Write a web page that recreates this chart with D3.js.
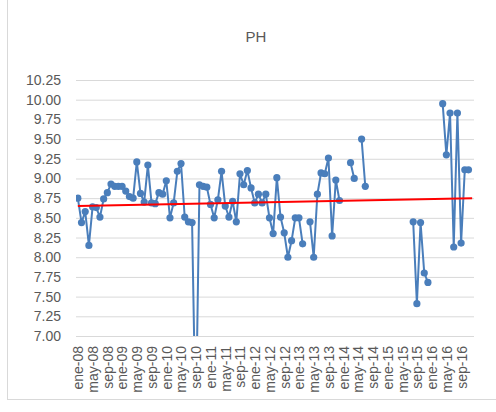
<!DOCTYPE html>
<html>
<head>
<meta charset="utf-8">
<script src="https://cdn.jsdelivr.net/npm/d3@7"></script>
<style>
  body { margin: 0; background: #fff; }
  text { font-family: "Liberation Sans", Arial, sans-serif; }
</style>
</head>
<body>
<script>
// categories: one per month, ene-08 .. dic-16
const years = [8, 9, 10, 11, 12, 13, 14, 15, 16];
const monthNames = ["ene", "feb", "mar", "abr", "may", "jun", "jul", "ago", "sep", "oct", "nov", "dic"];
const months = [];
years.forEach(y => monthNames.forEach(m => months.push(m + "-" + String(y).padStart(2, "0"))));

// pH readings, null = no sample that month
const phValues = [
  8.75, 8.44, 8.58, 8.15, 8.64, 8.63, 8.51, 8.74, 8.82, 8.93, 8.90, 8.90,   // 2008
  8.90, 8.84, 8.77, 8.75, 9.21, 8.81, 8.70, 9.17, 8.69, 8.68, 8.82, 8.80,   // 2009
  8.97, 8.50, 8.69, 9.09, 9.19, 8.51, 8.45, 8.44, 5.80, 8.92, 8.90, 8.89,   // 2010
  8.67, 8.50, 8.73, 9.09, 8.65, 8.51, 8.71, 8.45, 9.06, 8.92, 9.10, 8.88,   // 2011
  8.69, 8.80, 8.69, 8.80, 8.50, 8.30, 9.01, 8.51, 8.31, 8.00, 8.21, 8.50,   // 2012
  8.50, 8.17, null, 8.45, 8.00, 8.80, 9.07, 9.06, 9.26, 8.27, 8.98, 8.72,   // 2013
  null, null, 9.20, 9.00, null, 9.50, 8.90, null, null, null, null, null,   // 2014
  null, null, null, null, null, null, null, 8.45, 7.41, 8.44, 7.80, 7.68,   // 2015
  null, null, null, 9.95, 9.30, 9.83, 8.13, 9.83, 8.18, 9.11, 9.11, null    // 2016
];

// linear trend, read at first and last category
const trendValues = [8.65, 8.75];

const yTicks = [7.00, 7.25, 7.50, 7.75, 8.00, 8.25, 8.50, 8.75, 9.00, 9.25, 9.50, 9.75, 10.00, 10.25];

const W = 496, H = 412;
const plot = { left: 76, right: 474, top: 80, bottom: 336 };

const svg = d3.select("body").append("svg")
  .attr("width", W)
  .attr("height", H);

// chart frame
svg.append("rect")
  .attr("x", 7.5).attr("y", -10)
  .attr("width", 520).attr("height", 409.5)
  .attr("fill", "#fff")
  .attr("stroke", "#d9d9d9");

svg.append("text")
  .attr("x", 256).attr("y", 42)
  .attr("text-anchor", "middle")
  .attr("font-size", 15)
  .attr("fill", "#595959")
  .text("PH");

const x = d3.scalePoint().domain(months).range([plot.left, plot.right]).padding(0.5);
const y = d3.scaleLinear().domain([7, 10.25]).range([plot.bottom, plot.top]);

// gridlines + y labels
const yaxis = d3.axisLeft(y)
  .tickValues(yTicks)
  .tickFormat(d3.format(".2f"))
  .tickSize(-(plot.right - plot.left))
  .tickPadding(15);

const gy = svg.append("g")
  .attr("transform", `translate(${plot.left},0)`)
  .call(yaxis);
gy.select(".domain").remove();
gy.selectAll("line").attr("stroke", "#d9d9d9").attr("stroke-width", 1);
gy.selectAll("text").attr("font-size", 14).attr("fill", "#595959").attr("font-family", "Liberation Sans, Arial, sans-serif");

// x labels, every 4th month
const xaxis = d3.axisBottom(x)
  .tickValues(months.filter((d, i) => i % 4 === 0))
  .tickSize(0);

const gx = svg.append("g")
  .attr("transform", `translate(0,${plot.bottom})`)
  .call(xaxis);
gx.select(".domain").remove();
gx.selectAll("text")
  .attr("font-size", 14)
  .attr("fill", "#595959")
  .attr("font-family", "Liberation Sans, Arial, sans-serif")
  .attr("text-anchor", "end")
  .attr("transform", "rotate(-90)")
  .attr("x", -10)
  .attr("y", 0)
  .attr("dy", "0.35em");

svg.append("clipPath").attr("id", "plotclip")
  .append("rect")
  .attr("x", plot.left).attr("y", plot.top)
  .attr("width", plot.right - plot.left)
  .attr("height", plot.bottom - plot.top);

const data = months.map((m, i) => ({ month: m, value: phValues[i] }));

const line = d3.line()
  .defined(d => d.value !== null)
  .x(d => x(d.month))
  .y(d => y(d.value));

const g = svg.append("g").attr("clip-path", "url(#plotclip)");

g.append("path")
  .datum(data)
  .attr("fill", "none")
  .attr("stroke", "#4A7EBB")
  .attr("stroke-width", 2)
  .attr("stroke-linejoin", "round")
  .attr("d", line);

g.selectAll("circle")
  .data(data.filter(d => d.value !== null))
  .join("circle")
  .attr("cx", d => x(d.month))
  .attr("cy", d => y(d.value))
  .attr("r", 3.6)
  .attr("fill", "#4A7EBB");

// trend line
svg.append("line")
  .attr("x1", x(months[0]))
  .attr("y1", y(trendValues[0]))
  .attr("x2", x(months[months.length - 1]))
  .attr("y2", y(trendValues[1]))
  .attr("stroke", "#ff0000")
  .attr("stroke-width", 2);
</script>
</body>
</html>
